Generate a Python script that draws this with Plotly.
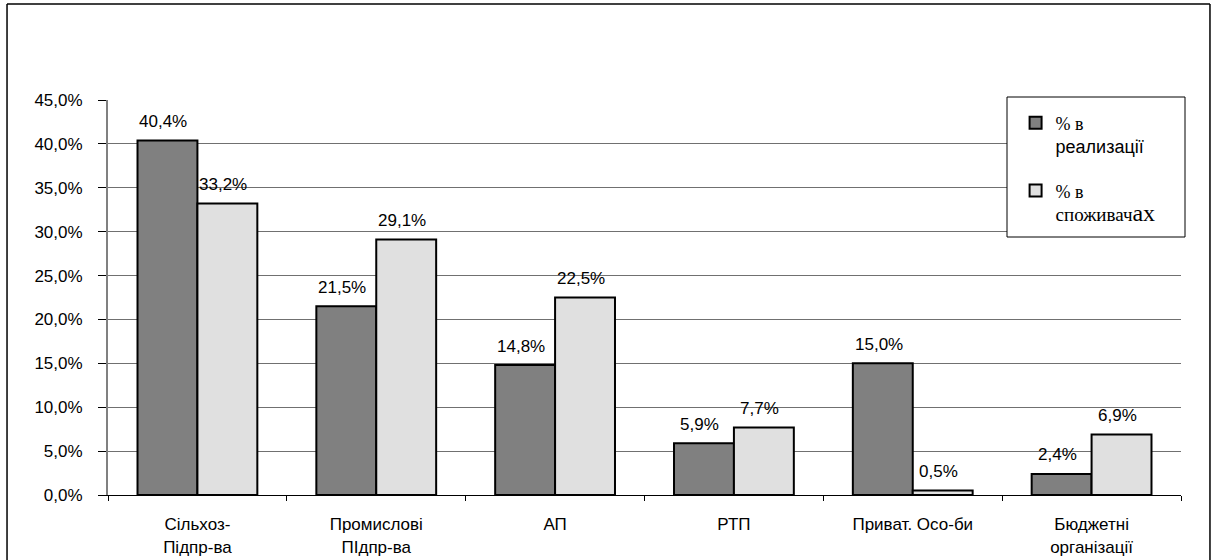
import plotly.graph_objects as go

# Categories and shares (fraction of total)
categories = ["Сільхоз-<br>Підпр-ва", "Промислові<br>ПІдпр-ва", "АП", "РТП",
              "Приват. Осо-би", "Бюджетні<br>організації"]
realization = [0.404, 0.215, 0.148, 0.059, 0.150, 0.024]
consumers = [0.332, 0.291, 0.225, 0.077, 0.005, 0.069]

y_ticks = [0, 0.05, 0.10, 0.15, 0.20, 0.25, 0.30, 0.35, 0.40, 0.45]

SERIF = "Liberation Serif, Times New Roman, serif"
SANS = "Liberation Sans, Arial, sans-serif"


def pct(v):
    return f"{v * 100:.1f}%".replace(".", ",")


name_real = (f"<span style='font-family:{SERIF};font-size:18px'>% в</span><br>"
             f"<span style='font-family:{SANS};font-size:18px'>реализації</span>")
name_cons = (f"<span style='font-family:{SERIF};font-size:18px'>% в</span><br>"
             f"<span style='font-family:{SERIF};font-size:19px'>споживач</span>"
             f"<span style='font-family:{SERIF};font-size:24px'>ах</span>")

fig = go.Figure()
fig.add_trace(go.Bar(
    x=categories, y=realization, name=name_real, legendgroup="a",
    marker=dict(color="#808080", line=dict(color="#000000", width=2)),
))
fig.add_trace(go.Bar(
    x=categories, y=consumers, name=name_cons, legendgroup="b",
    marker=dict(color="#e0e0e0", line=dict(color="#000000", width=2)),
))

# value labels above each bar of the pair
annotations = []
for series, shift in ((realization, -34), (consumers, 26)):
    for cat, v in zip(categories, series):
        annotations.append(dict(
            x=cat, y=v, xref="x", yref="y", text=pct(v), showarrow=False,
            xshift=shift, yshift=19, xanchor="center", yanchor="middle",
            font=dict(family=SANS, size=17, color="#000000"),
        ))

# legend frame sits over the top-right gridlines
lx0, lx1 = (1007 - 108) / 1073, (1185 - 108) / 1073
ly1, ly0 = (495 - 97) / 395, (495 - 237) / 395

shapes = [
    # outer chart frame
    dict(type="line", xref="paper", yref="paper", x0=-0.0941, x1=-0.0941, y0=-0.3, y1=1.243,
         line=dict(color="#000000", width=1.5)),
    dict(type="line", xref="paper", yref="paper", x0=1.027, x1=1.027, y0=-0.3, y1=1.243,
         line=dict(color="#000000", width=1.5)),
    dict(type="line", xref="paper", yref="paper", x0=-0.0941, x1=1.027, y0=1.243, y1=1.243,
         line=dict(color="#000000", width=1.5)),
    dict(type="rect", xref="paper", yref="paper", x0=lx0, x1=lx1, y0=ly0, y1=ly1,
         fillcolor="#ffffff", line=dict(color="#000000", width=1), layer="above"),
]

fig.update_layout(
    width=1214, height=560,
    margin=dict(l=108, r=33, t=100, b=65),
    paper_bgcolor="#ffffff", plot_bgcolor="#ffffff",
    barmode="group", bargap=0.33, bargroupgap=0,
    separators=", ",
    font=dict(family=SANS, size=17, color="#000000"),
    showlegend=True,
    legend=dict(x=lx0 + 0.008, y=ly1 - 0.019, xanchor="left", yanchor="top",
                bgcolor="rgba(0,0,0,0)", borderwidth=0, tracegroupgap=18,
                itemwidth=30, valign="top", font=dict(size=18, color="#000000")),
    shapes=shapes,
    annotations=annotations,
    xaxis=dict(
        type="category", tickson="boundaries", ticks="outside", ticklen=5,
        tickcolor="#000000", showline=True, linecolor="#000000", linewidth=1,
        showgrid=False, tickfont=dict(family=SANS, size=17),
        ticklabelstandoff=14, automargin=False,
    ),
    yaxis=dict(
        range=[0, 0.45], tickvals=y_ticks, tickformat=".1%",
        ticks="outside", ticklen=8, tickcolor="#000000",
        showline=True, linecolor="#808080", linewidth=2,
        showgrid=True, gridcolor="#707070", gridwidth=1,
        zeroline=False, tickfont=dict(family=SANS, size=17),
        ticklabelstandoff=12, automargin=False,
    ),
)

fig.write_html("out.html")
